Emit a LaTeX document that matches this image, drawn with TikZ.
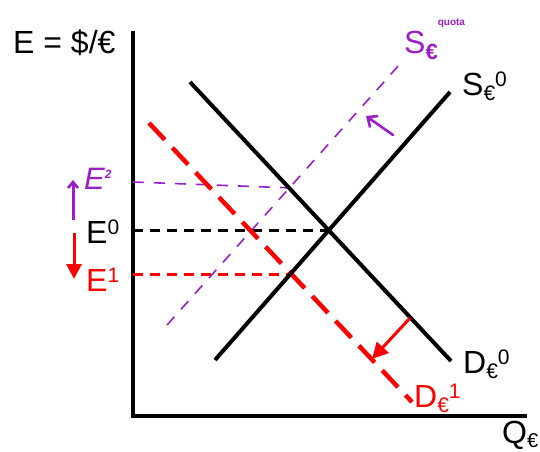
\documentclass[tikz,border=0pt]{standalone}
\usepackage{fontspec}
\setmainfont{Liberation Sans}
\usetikzlibrary{arrows.meta}
\definecolor{qpurple}{RGB}{155,30,200}
\definecolor{qred}{RGB}{255,0,0}
\begin{document}
\begin{tikzpicture}[x=1pt,y=-1pt,
  axisline/.style={line width=4pt,line cap=rect},
  curve/.style={line width=4pt},
  reddash/.style={qred,line width=4.5pt,dash pattern=on 23pt off 11pt},
  levelblack/.style={black,line width=3pt,dash pattern=on 10pt off 7pt},
  levelred/.style={qred,line width=3pt,dash pattern=on 10pt off 7pt},
  purpdash/.style={qpurple,line width=1.6pt,dash pattern=on 11pt off 10pt},
  lbl/.style={anchor=base west,inner sep=0pt,font=\fontsize{32}{32}\selectfont},
  hand/.style={anchor=base west,inner sep=0pt,text=qpurple,font=\fontsize{32}{32}\selectfont}]
\useasboundingbox (0,0) rectangle (540,451);
% coordinates
\coordinate (O) at (133,416);
\coordinate (Ytop) at (133,33);
\coordinate (Xend) at (525,416);
\coordinate (S0a) at (215,360);
\coordinate (S0b) at (450,92);
\coordinate (D0a) at (190,82);
\coordinate (D0b) at (451,361);
\coordinate (D1a) at (149,123);
\coordinate (D1b) at (412,402);
\coordinate (SQa) at (167,325);
\coordinate (SQb) at (400,64);
\coordinate (E0l) at (133,230);
\coordinate (E0r) at (330,230);
\coordinate (E1l) at (133,274);
\coordinate (E1r) at (290,274);
\coordinate (E2l) at (133,182);
\coordinate (E2r) at (293,188);
\coordinate (RAt) at (410,318);
\coordinate (RAh) at (372,359);
\coordinate (PAt) at (393,135);
\coordinate (PAh) at (366,116);
\coordinate (UAt) at (73,220);
\coordinate (UAh) at (73,180);
\coordinate (DAt) at (74,233);
\coordinate (DAh) at (74,279);
% axes
\draw[axisline] (Ytop) -- (O) -- (Xend);
% level lines
\draw[levelblack] (E0l) -- (E0r);
\draw[levelred] (E1l) -- (E1r);
\draw[purpdash] (E2l) -- (E2r);
% curves
\draw[purpdash] (SQa) -- (SQb);
\draw[reddash] (D1a) -- (D1b);
\draw[curve] (S0a) -- (S0b);
\draw[curve] (D0a) -- (D0b);
% shift arrows
\draw[qred,line width=3pt,-{Triangle[length=16pt,width=16pt]}] (RAt) -- (RAh);
\draw[qpurple,line width=2.6pt,line cap=round,-{Straight Barb[length=8pt,width=14pt,line width=2.6pt]}] (PAt) -- (PAh);
\draw[qpurple,line width=3pt,-{Straight Barb[length=6pt,width=10pt,line width=2.6pt]}] (UAt) -- (UAh);
\draw[qred,line width=3pt,-{Triangle[length=15pt,width=15pt]}] (DAt) -- (DAh);
% labels
\node[lbl] (ylab) at (13,53) {E = \$/€};
\node[lbl] (s0lab) at (462,95) {S\raisebox{-5pt}{\fontsize{21}{21}\selectfont €}\raisebox{9pt}{\fontsize{21}{21}\selectfont 0}};
\node[lbl] (d0lab) at (463,373) {D\raisebox{-5pt}{\fontsize{21}{21}\selectfont €}\raisebox{9pt}{\fontsize{21}{21}\selectfont 0}};
\node[lbl,text=qred] (d1lab) at (414,407) {D\raisebox{-5pt}{\fontsize{21}{21}\selectfont €}\raisebox{9pt}{\fontsize{21}{21}\selectfont 1}};
\node[lbl] (qlab) at (502,443) {Q\raisebox{-4pt}{\fontsize{20}{20}\selectfont €}};
\node[lbl] (e0lab) at (86,243) {E\raisebox{9pt}{\fontsize{21}{21}\selectfont 0}};
\node[lbl,text=qred] (e1lab) at (86,291) {E\raisebox{9pt}{\fontsize{21}{21}\selectfont 1}};
\node[hand,font=\fontsize{31}{31}\selectfont\itshape] (e2lab) at (84,189) {E\raisebox{11pt}{\fontsize{12}{12}\selectfont\bfseries 2}};
\node[hand] (sqlab) at (404,53) {S\raisebox{-6pt}{\fontsize{22}{22}\selectfont\bfseries €}\raisebox{28pt}{\fontsize{10}{10}\selectfont\bfseries quota}};
\end{tikzpicture}
\end{document}
